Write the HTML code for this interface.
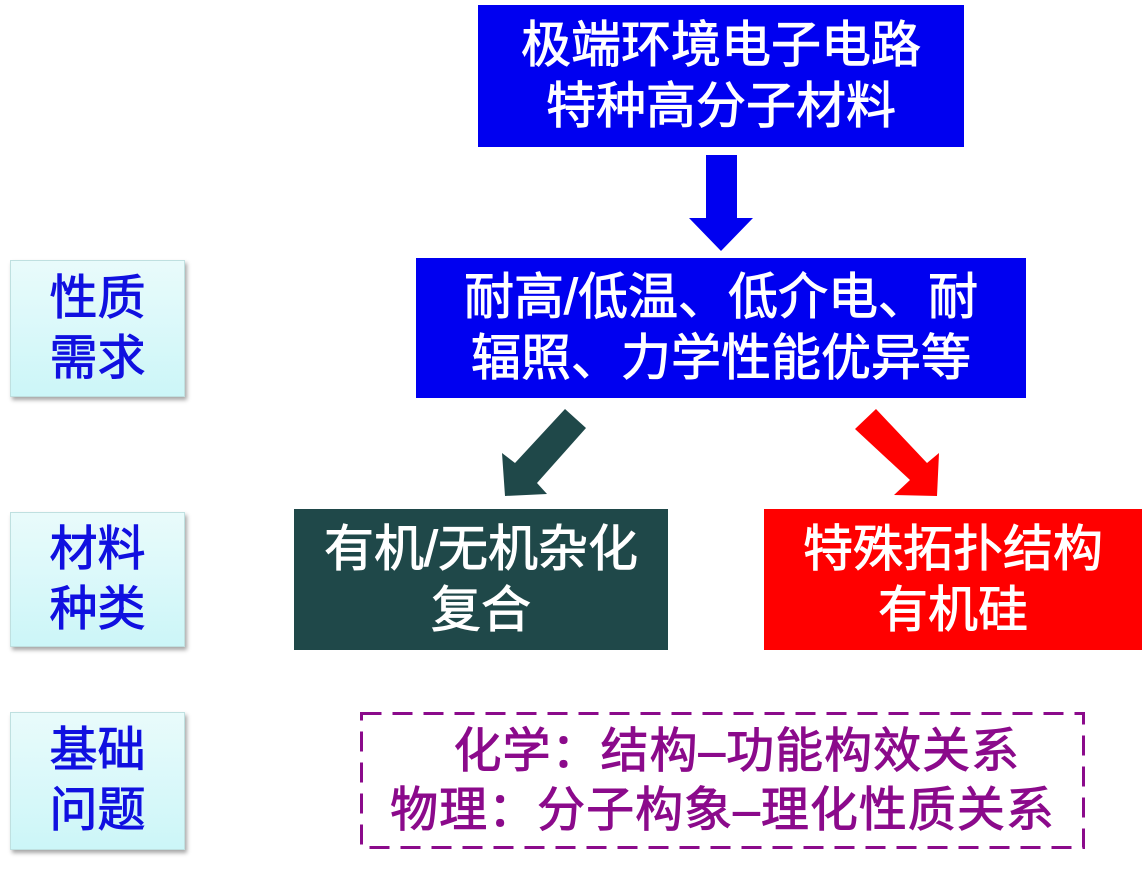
<!DOCTYPE html>
<html><head><meta charset="utf-8"><style>
body{margin:0;width:1143px;height:879px;background:#fff;position:relative;overflow:hidden;font-family:"Liberation Sans","Noto Sans CJK SC",sans-serif;}
.b{position:absolute;display:flex;align-items:center;justify-content:center;text-align:center;color:#fff;font-size:50px;line-height:61px;box-sizing:border-box;-webkit-text-stroke:0.9px currentColor;}
.s{position:absolute;left:10px;width:173px;background:linear-gradient(#e9fbfb,#ccf6f8);border:1px solid #bfe0e0;box-shadow:2px 3px 4px rgba(0,0,0,0.35);color:#1010e0;font-size:48px;line-height:60px;display:flex;align-items:center;justify-content:center;text-align:center;-webkit-text-stroke:0.9px #1010e0;}
</style></head><body>
<div class="b" style="left:478px;top:5px;width:486px;height:142px;background:#0000f0;">极端环境电子电路<br>特种高分子材料</div>
<div class="b" style="left:416px;top:258px;width:610px;height:140px;background:#0000f0;">耐高/低温、低介电、耐<br>辐照、力学性能优异等</div>
<div class="b" style="left:294px;top:509px;width:374px;height:141px;background:#1f4849;">有机/无机杂化<br>复合</div>
<div class="b" style="left:764px;top:509px;width:378px;height:141px;background:#ff0000;">特殊拓扑结构<br>有机硅</div>
<div class="s" style="top:260px;height:135px;">性质<br>需求</div>
<div class="s" style="top:512px;height:133px;">材料<br>种类</div>
<div class="s" style="top:712px;height:136px;">基础<br>问题</div>
<svg width="1143" height="879" style="position:absolute;left:0;top:0">
<rect x="361.5" y="713.5" width="722" height="134" fill="none" stroke="#8b0a8b" stroke-width="3" stroke-dasharray="20,11"/>
<polygon points="706,155 737,155 737,218 753,218 721,251 689,218 706,218" fill="#0000f0"/>
<polygon points="565,409 586,428 537,483 547,494 505,496 502,453 515,463" fill="#1f4849"/>
<polygon points="876,409 927,463 939,453 937,496 894,495 910,480 855,429" fill="#ff0000"/>
</svg>
<div class="b" style="left:360px;top:712px;width:725px;height:137px;color:#8b0a8b;font-size:48px;line-height:59px;letter-spacing:1px;">&nbsp;&nbsp;化学：结构–功能构效关系<br>物理：分子构象–理化性质关系</div>
</body></html>
